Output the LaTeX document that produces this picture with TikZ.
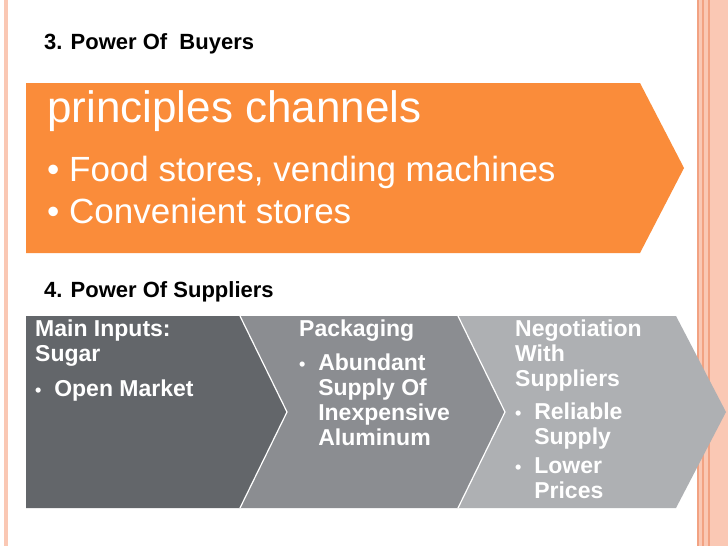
\documentclass[tikz,border=0pt]{standalone}
\usepackage{fontspec}
\setmainfont{Liberation Sans}
\begin{document}
\begin{tikzpicture}[x=1pt,y=-1pt,
  lbl/.style={anchor=north west,inner sep=0pt,font=\bfseries\fontsize{23}{25}\selectfont,text=white,align=left},
  ttl/.style={anchor=west,inner sep=0pt,font=\bfseries\fontsize{22}{24}\selectfont}]
\definecolor{org}{HTML}{FA8C3A}
\definecolor{gA}{HTML}{63666A}
\definecolor{gB}{HTML}{8B8D91}
\definecolor{gC}{HTML}{AEB0B3}
\definecolor{pk}{HTML}{FAC8B4}
\definecolor{pkl}{HTML}{F2A282}
\newcommand{\bl}{{\fontsize{18}{20}\selectfont•}\ \ }
\useasboundingbox (0,0) rectangle (728,546);
\fill[white] (0,0) rectangle (728,546);
\fill[pk] (697,0) rectangle (728,546);
\draw[pkl,line width=1.2] (698,0)--(698,546) (703,0)--(703,546) (709,0)--(709,546);
\fill[pk] (4,0) rectangle (8,546);
\node[ttl] (t1) at (44,44) {3. Power Of\ \ Buyers};
\fill[org] (26,83)--(640,83)--(684,168)--(640,253)--(26,253)--cycle;
\node[anchor=north west,inner sep=0pt,text=white,align=left,font=\fontsize{35}{42}\selectfont] (o) at (47,90)
  {{\fontsize{44}{44}\selectfont principles channels}\\[17pt]
   • Food stores, vending machines\\
   • Convenient stores};
\node[ttl] (t2) at (44,292) {4. Power Of Suppliers};
\fill[gC] (458,316)--(676,316)--(726,412)--(676,508)--(458,508)--(505,412)--cycle;
\fill[gB] (240,316)--(458,316)--(505,412)--(458,508)--(240,508)--(287,412)--cycle;
\fill[gA] (26,316)--(240,316)--(287,412)--(240,508)--(26,508)--cycle;
\draw[white,line width=1.2] (240,316)--(287,412)--(240,508) (458,316)--(505,412)--(458,508);
\node[lbl] (a) at (35,320) {Main Inputs:\\Sugar\\[10pt]\bl Open Market};
\node[lbl] (b) at (299,320) {Packaging\\[9pt]\bl Abundant\\\hphantom{\bl}Supply Of\\\hphantom{\bl}Inexpensive\\\hphantom{\bl}Aluminum};
\node[lbl] (c) at (515,320) {Negotiation\\With\\Suppliers\\[8pt]\bl Reliable\\\hphantom{\bl}Supply\\[4pt]\bl Lower\\\hphantom{\bl}Prices};
\end{tikzpicture}
\end{document}
